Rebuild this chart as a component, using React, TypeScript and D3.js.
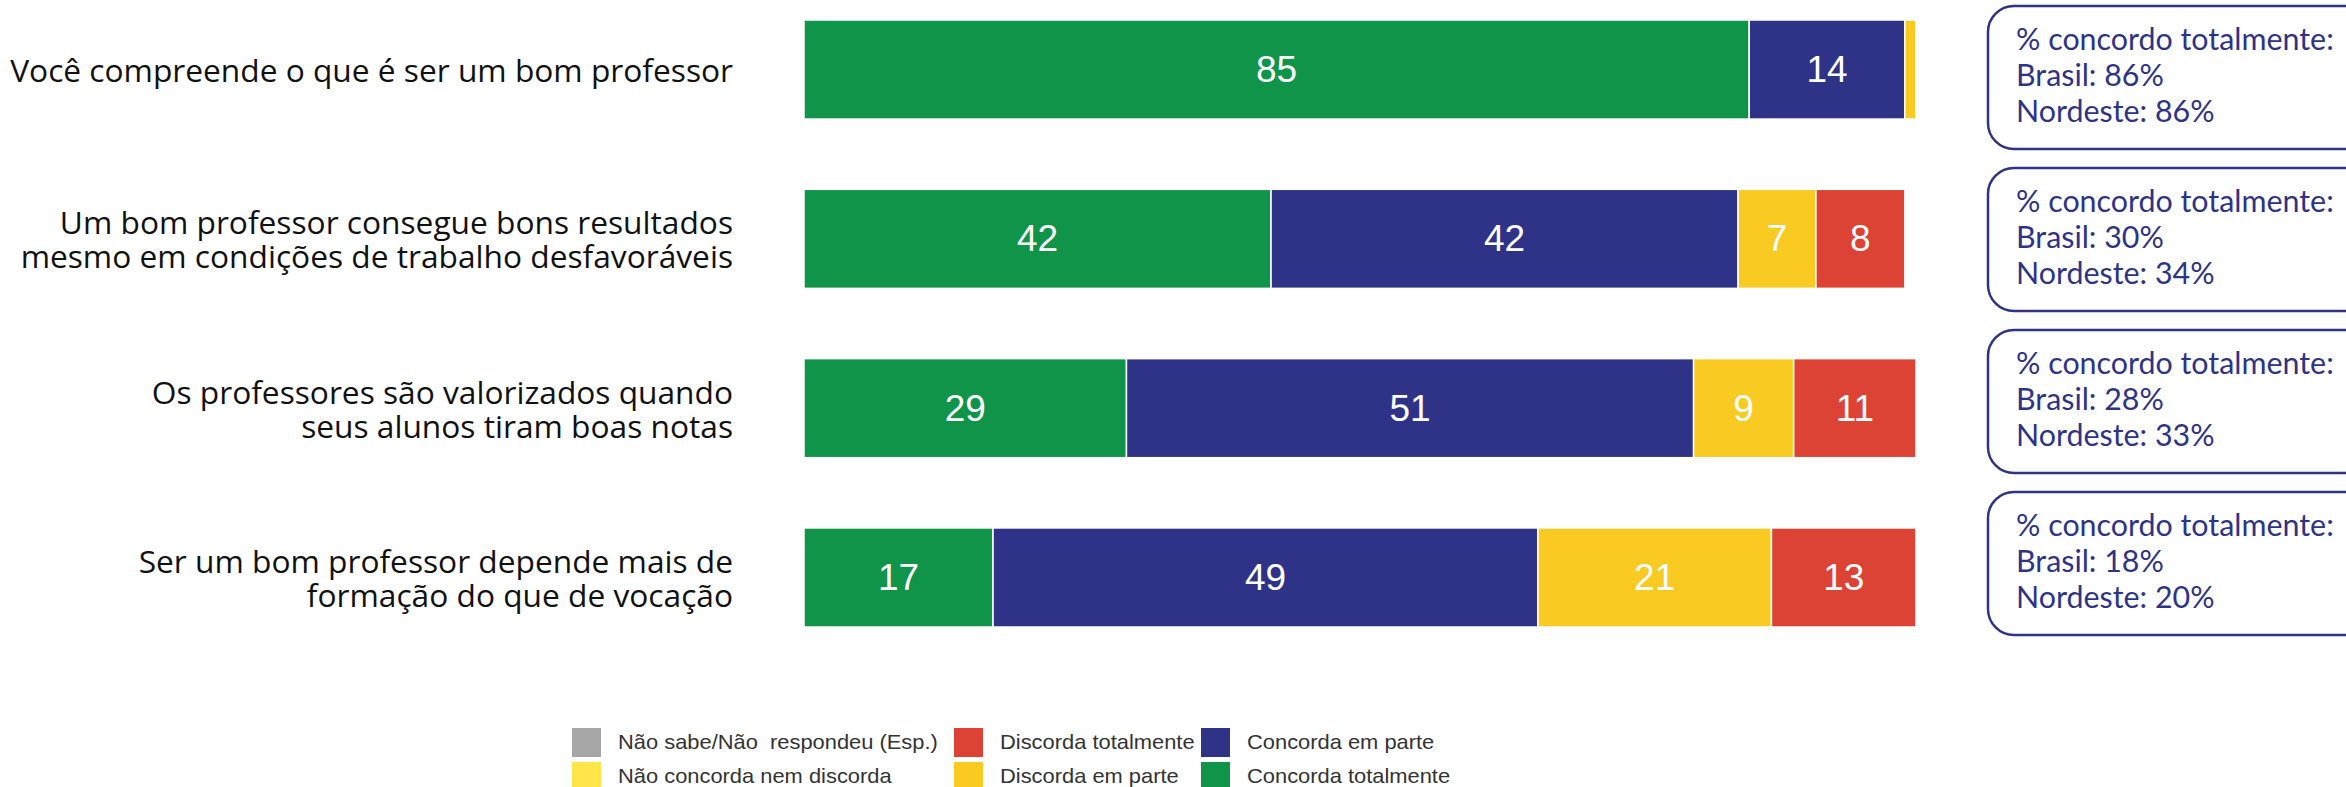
import React, { useEffect, useRef } from 'react';
import * as d3 from 'd3';

// statements (line breaks where the reference wraps them)
const categories = [
  'Você compreende o que é ser um bom professor',
  'Um bom professor consegue bons resultados\nmesmo em condições de trabalho desfavoráveis',
  'Os professores são valorizados quando\nseus alunos tiram boas notas',
  'Ser um bom professor depende mais de\nformação do que de vocação',
];

// answers in %, one value per statement
const concordaTotalmente = [85, 42, 29, 17];
const concordaEmParte = [14, 42, 51, 49];
const naoConcordaNemDiscorda = [0, 0, 0, 0];
const discordaEmParte = [1, 7, 9, 21];
const discordaTotalmente = [0, 8, 11, 13];
const naoSabe = [0, 0, 0, 0];

// "% concordo totalmente" callouts
const brasil = [86, 30, 28, 18];
const nordeste = [86, 34, 33, 20];

const seriesKeys = [
  'Concorda totalmente',
  'Concorda em parte',
  'Não concorda nem discorda',
  'Discorda em parte',
  'Discorda totalmente',
  'Não sabe/Não  respondeu (Esp.)',
];
const seriesValues = [
  concordaTotalmente,
  concordaEmParte,
  naoConcordaNemDiscorda,
  discordaEmParte,
  discordaTotalmente,
  naoSabe,
];

// legend is laid out in three columns of two
const legendColumns = [
  ['Não sabe/Não  respondeu (Esp.)', 'Não concorda nem discorda'],
  ['Discorda totalmente', 'Discorda em parte'],
  ['Concorda em parte', 'Concorda totalmente'],
];

const colors: Record<string, string> = {
  'Concorda totalmente': '#0f9449',
  'Concorda em parte': '#2e3388',
  'Não concorda nem discorda': '#fee548',
  'Discorda em parte': '#f9ca22',
  'Discorda totalmente': '#dd4334',
  'Não sabe/Não  respondeu (Esp.)': '#a6a6a6',
};

const W = 2346;
const H = 787;

export default function App() {
  const svgRef = useRef<SVGSVGElement | null>(null);

  useEffect(() => {
    if (!svgRef.current) return;
    const svg = d3.select(svgRef.current);
    svg.selectAll('*').remove();

    const rows = categories.map((c, i) => {
      const r: any = { category: c };
      seriesKeys.forEach((k, j) => (r[k] = seriesValues[j][i]));
      return r;
    });

    const x = d3.scaleLinear().domain([0, 100]).range([804, 1916]);
    const y = d3
      .scaleBand<string>()
      .domain(categories)
      .range([20, 627])
      .paddingInner(0.415)
      .paddingOuter(0);

    const stacked = d3.stack<any>().keys(seriesKeys)(rows);

    // bars
    const layer = svg
      .append('g')
      .selectAll('g')
      .data(stacked)
      .enter()
      .append('g')
      .attr('fill', (d) => colors[d.key]);

    layer
      .selectAll('rect')
      .data((d) => d.filter((s) => s[1] - s[0] > 0))
      .enter()
      .append('rect')
      .attr('x', (d) => x(d[0]))
      .attr('y', (d) => y(d.data.category)!)
      .attr('width', (d) => x(d[1]) - x(d[0]))
      .attr('height', y.bandwidth())
      .attr('stroke', '#fff')
      .attr('stroke-width', 1.5);

    // value labels
    layer
      .selectAll('text')
      .data((d) => d.filter((s) => s[1] - s[0] >= 3))
      .enter()
      .append('text')
      .attr('x', (d) => (x(d[0]) + x(d[1])) / 2)
      .attr('y', (d) => y(d.data.category)! + y.bandwidth() / 2)
      .attr('text-anchor', 'middle')
      .attr('dominant-baseline', 'central')
      .attr('fill', '#fff')
      .style('font-family', '"Liberation Sans", Arial, sans-serif')
      .style('font-size', '37px')
      .text((d) => d[1] - d[0]);

    // category labels, right aligned
    const lineH = 34;
    const labels = svg
      .append('g')
      .selectAll('text')
      .data(categories)
      .enter()
      .append('text')
      .attr('text-anchor', 'end')
      .attr('fill', '#111')
      .style('font-family', '"Open Sans", sans-serif')
      .style('font-size', '31.7px');

    labels.each(function (c) {
      const lines = c.split('\n');
      const cy = y(c)! + y.bandwidth() / 2;
      d3.select(this)
        .selectAll('tspan')
        .data(lines)
        .enter()
        .append('tspan')
        .attr('x', 733)
        .attr('y', (_, i) => cy + (i - (lines.length - 1) / 2) * lineH)
        .attr('dominant-baseline', 'central')
        .text((l) => l);
    });

    // callout boxes on the right
    const boxTop = d3.scaleLinear().domain([0, categories.length - 1]).range([6, 492]);
    const boxes = svg
      .append('g')
      .selectAll('g')
      .data(categories)
      .enter()
      .append('g')
      .attr('transform', (_, i) => `translate(1988, ${boxTop(i)})`);

    boxes
      .append('rect')
      .attr('width', 385)
      .attr('height', 143)
      .attr('rx', 26)
      .attr('fill', 'none')
      .attr('stroke', '#2e3388')
      .attr('stroke-width', 2.5);

    const boxLines = (i: number) => [
      '% concordo totalmente:',
      `Brasil: ${brasil[i]}%`,
      `Nordeste: ${nordeste[i]}%`,
    ];

    boxes
      .append('text')
      .attr('fill', '#2e3388')
      .style('font-family', 'Lato, sans-serif')
      .style('font-size', '30.4px')
      .selectAll('tspan')
      .data((_, i) => boxLines(i))
      .enter()
      .append('tspan')
      .attr('x', 28)
      .attr('y', (_, j) => 44 + j * 36)
      .text((l) => l);

    // legend (the source legend text is a bit stretched horizontally)
    const legendX = [572, 954, 1201];
    const legendY = [728, 762];
    const sw = 29;
    const legendTexts: any[] = [];
    legendColumns.forEach((col, ci) => {
      col.forEach((name, ri) => {
        const g = svg.append('g').attr('transform', `translate(${legendX[ci]}, ${legendY[ri]})`);
        g.append('rect').attr('width', sw).attr('height', sw).attr('fill', colors[name]);
        const t = g
          .append('text')
          .attr('dominant-baseline', 'central')
          .attr('fill', '#333')
          .style('font-family', '"Liberation Sans", Arial, sans-serif')
          .style('font-size', '21px')
          .style('white-space', 'pre')
          .text(name);
        legendTexts.push(t);
      });
    });
    // the first entry spans ~320px in the reference; stretch all entries alike
    const w0 = (legendTexts[0].node() as SVGTextElement).getComputedTextLength() || 320;
    const sx = Math.min(1.35, Math.max(0.8, 320 / w0));
    legendTexts.forEach((t) => t.attr('transform', `translate(${sw + 17}, ${sw / 2}) scale(${sx}, 1)`));
  }, []);

  return (
    <svg
      ref={svgRef}
      width={W}
      height={H}
      style={{ position: 'absolute', left: 0, top: 0, background: '#fff', display: 'block' }}
    />
  );
}
